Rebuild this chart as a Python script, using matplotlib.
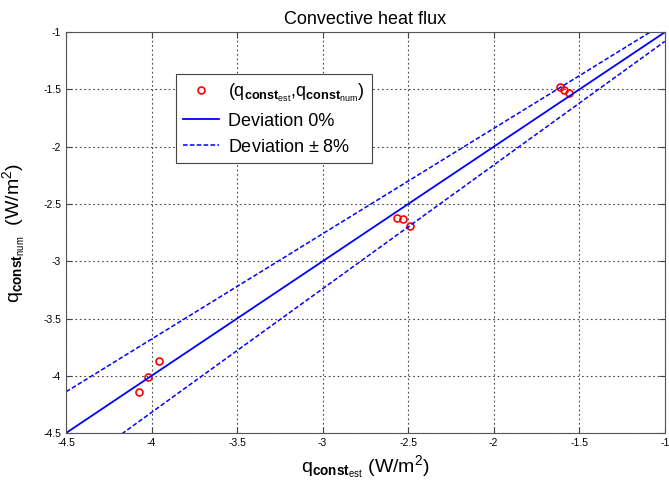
import numpy as np
import matplotlib
matplotlib.use("Agg")
import matplotlib.pyplot as plt

plt.rcParams['font.family'] = ['Liberation Sans', 'DejaVu Sans']
plt.rcParams['mathtext.fontset'] = 'custom'
plt.rcParams['mathtext.rm'] = 'Liberation Sans'
plt.rcParams['mathtext.it'] = 'Liberation Sans'
plt.rcParams['mathtext.bf'] = 'Liberation Sans:bold'

q_est = [-1.614, -1.590, -1.561, -2.566, -2.531, -2.490, -3.957, -4.021, -4.073]
q_num = [-1.480, -1.506, -1.532, -2.623, -2.632, -2.693, -3.872, -4.011, -4.142]
deviation = 0.08
ref_range = [-4.5, -1.0]
ticks = [-4.5, -4, -3.5, -3, -2.5, -2, -1.5, -1]
tick_labels = ['-4.5', '-4', '-3.5', '-3', '-2.5', '-2', '-1.5', '-1']

fig = plt.figure(figsize=(6.69, 4.96), dpi=100)
ax = fig.add_axes([0.0987, 0.127, 0.895, 0.808])

xr = np.array(ref_range)
ax.plot(q_est, q_num, 'o', mfc='none', mec='red', ms=5, mew=1.2,
        label=r'($\mathrm{q}_{\mathbf{const}_{\mathrm{est}}}$,$\mathrm{q}_{\mathbf{const}_{\mathrm{num}}}$)')
ax.plot(xr, xr, '-', color='blue', lw=1.3, label='Deviation 0%')
ax.plot(xr, xr * (1 - deviation), '--', color='blue', lw=1.1, dashes=(3, 1.5),
        label='Deviation $\\pm$ 8%')
ax.plot(xr, xr * (1 + deviation), '--', color='blue', lw=1.1, dashes=(3, 1.5))

ax.set_xlim(ref_range)
ax.set_ylim(ref_range)
ax.set_xticks(ticks)
ax.set_yticks(ticks)
ax.set_xticklabels(tick_labels)
ax.set_yticklabels(tick_labels)
ax.tick_params(direction='in', labelsize=7.5, top=True, right=True, length=4, color='#444444')
ax.grid(True, linestyle=(0, (1.5, 2.5)), color='#444444', lw=0.8)
for s in ax.spines.values():
    s.set_color('#555555')

ax.set_title('Convective heat flux', fontsize=13)
ax.set_xlabel(r'$\mathrm{q}_{\mathbf{const}_{\mathrm{est}}}$ (W/m$^2$)', fontsize=14, labelpad=4)
ax.set_ylabel(r'$\mathrm{q}_{\mathbf{const}_{\mathrm{num}}}$  (W/m$^2$)', fontsize=14, labelpad=12)

leg = ax.legend(loc='upper left', bbox_to_anchor=(0.183, 0.895), fontsize=13,
                frameon=True, fancybox=False, edgecolor='#444444', framealpha=1,
                borderaxespad=0, handlelength=2.0, handletextpad=0.5,
                labelspacing=0.5, borderpad=0.4)
leg.get_frame().set_linewidth(0.8)

fig.savefig('out.png', dpi=100)
